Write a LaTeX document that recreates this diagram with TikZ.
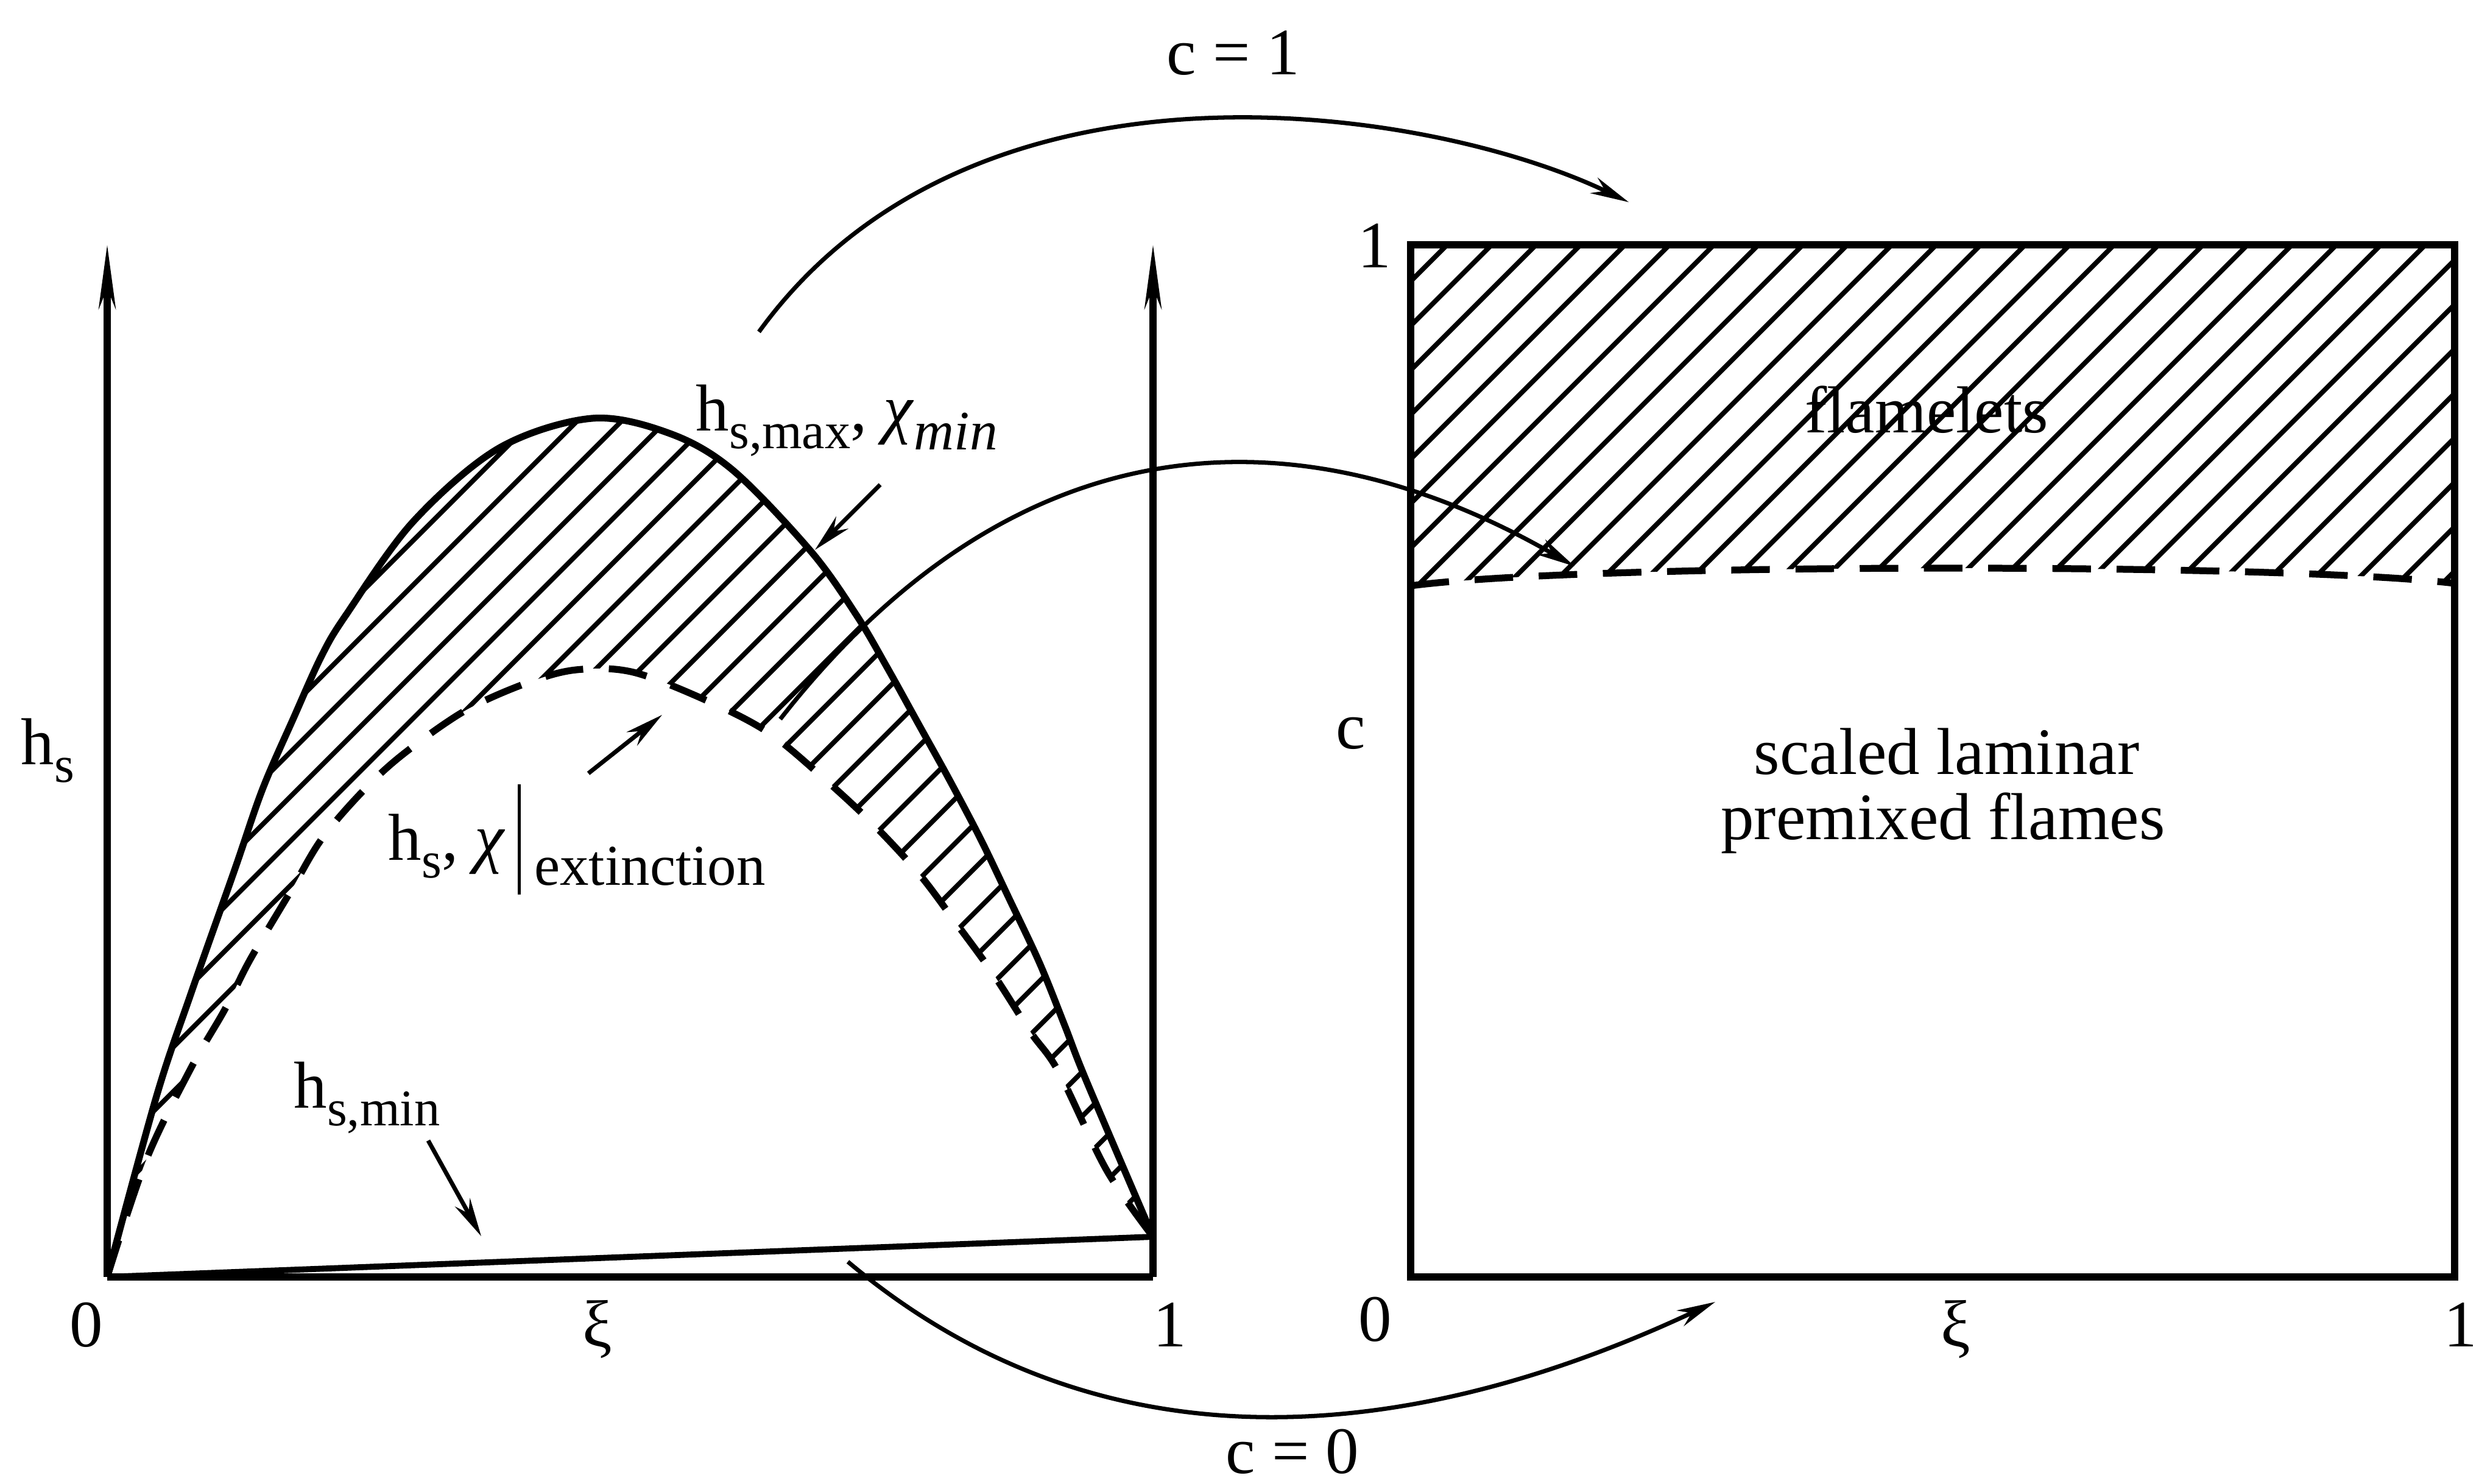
\documentclass[tikz,border=0pt]{standalone}
\usepackage{fontspec}
\setmainfont{Liberation Serif}
\usetikzlibrary{arrows.meta, positioning}

% lowered, smaller text for the subscripts
\newcommand{\subtxt}[1]{\raisebox{-0.26em}{\fontsize{24}{24}\selectfont #1}}

% upper (solid) and lower (dashed) enthalpy curves
\newcommand{\solidcurve}{plot[smooth, tension=0.55] coordinates {(1.76,3.39) (2.57,6.36) (3.13,8.03) (3.85,10.07) (4.31,11.40) (4.82,12.57) (5.28,13.59) (5.68,14.26) (6.78,15.79) (8.19,17.00) (9.72,17.49) (11.00,17.24) (12.03,16.64) (13.31,15.31) (14.06,14.26) (14.57,13.39) (15.08,12.47) (15.59,11.55) (16.10,10.58) (16.56,9.62) (17.07,8.54) (17.48,7.52) (17.84,6.60) (18.93,4.05)}}
\newcommand{\dashcurve}{plot[smooth, tension=0.55] coordinates {(1.76,3.39) (2.40,5.31) (3.13,6.81) (3.69,7.78) (4.10,8.59) (4.77,9.72) (5.28,10.58) (5.94,11.35) (6.60,11.96) (7.62,12.68) (8.64,13.14) (9.46,13.36) (10.40,13.32) (11.66,12.83) (12.63,12.32) (13.50,11.60) (14.32,10.84) (15.08,10.02) (15.69,9.21) (16.31,8.36) (16.92,7.41) (17.38,6.76) (18.17,5.14) (18.93,4.05)}}

\begin{document}
\begin{tikzpicture}[>={Stealth[length=18pt,width=8pt]},
  every node/.style={font={\fontsize{31}{30}\selectfont}, inner sep=0pt},
  axis/.style={line width=3.2pt},
  curve/.style={line width=3.2pt},
  hatch/.style={line width=2.3pt},
  dashes/.style={dash pattern=on 18pt off 12pt},
  link/.style={line width=2pt}]
\useasboundingbox (0,0) rectangle (40.70,24.36);

% Left plot: axes
\coordinate (O) at (1.76,3.39);
\coordinate (ytop) at (1.76,20.34);
\coordinate (R0) at (18.93,3.39);
\coordinate (Rtop) at (18.93,20.34);
\coordinate (Rmin) at (18.93,4.05);

% Hatched band between the curves
\begin{scope}
\clip \solidcurve -- cycle;
\foreach \k in {0,...,45} \draw[hatch] (-14+\k*0.73,2) -- ++(17,17);
\end{scope}
\fill[white] \dashcurve -- cycle;

\draw[curve] \solidcurve;
\draw[curve, dashes] \dashcurve;
\draw[axis, -{Stealth[length=30pt,width=8pt]}] (O) -- (ytop);
\draw[axis, -{Stealth[length=30pt,width=8pt]}] (R0) -- (Rtop);
\draw[axis] (O) -- (R0);
\draw[line width=2.8pt] (O) -- (Rmin);

% Left plot: labels
\node[anchor=base] (x0) at (1.42,2.24) {0};
\node[anchor=base] (xxi) at (9.81,2.24) {ξ};
\node[anchor=base] (x1) at (19.21,2.24) {1};
\node[anchor=base west] (hs) at (0.34,11.8) {h\subtxt{s}};
\node[anchor=base west] (hmax) at (11.42,17.28) {h\subtxt{s,max}, \textit{χ}\raisebox{-0.28em}{\fontsize{26}{26}\selectfont\itshape min}};
\node[anchor=base west] (hext) at (6.37,10.23) {h\subtxt{s}, \textit{χ}\hspace{0.2cm}\rule[-0.56cm]{1.6pt}{1.81cm}\hspace{0.22cm}\raisebox{-0.41cm}{\fontsize{27}{27}\selectfont extinction}};
\node[anchor=base west] (hmin) at (4.82,6.16) {h\subtxt{s,min}};

% Label arrows
\coordinate (maxtail) at (14.45,16.40);
\coordinate (maxtip) at (13.38,15.33);
\coordinate (exttail) at (9.66,11.66);
\coordinate (exttip) at (10.87,12.62);
\coordinate (mintail) at (7.03,5.63);
\coordinate (mintip) at (7.90,4.06);
\draw[link, ->] (maxtail) -- (maxtip);
\draw[link, ->] (exttail) -- (exttip);
\draw[link, ->] (mintail) -- (mintip);

% Right plot: hatched flamelet region
\begin{scope}
\clip (23.16,20.34) -- (23.16,14.74) .. controls (26,15.12) and (37.5,15.12) .. (40.30,14.78) -- (40.30,20.34) -- cycle;
\foreach \k in {0,...,32} \draw[hatch] (16.69+\k*0.73,14) -- ++(7,7);
\end{scope}
\draw[curve, dashes] (23.16,14.74) .. controls (26,15.12) and (37.5,15.12) .. (40.30,14.78);
\draw[axis] (23.16,3.39) rectangle (40.30,20.34);

% Right plot: labels
\node[anchor=base] (c0) at (22.58,2.34) {0};
\node[anchor=base] (cone) at (22.57,19.96) {1};
\node[anchor=base] (clbl) at (22.18,12.06) {c};
\node[anchor=base] (rxi) at (32.11,2.24) {ξ};
\node[anchor=base] (r1) at (40.40,2.24) {1};
\node[anchor=base] (flam) at (31.63,17.25) {flamelets};
\node[anchor=base] (lam1) at (31.96,11.64) {scaled laminar};
\node[anchor=base] (lam2) at (31.90,10.57) {premixed flames};

% Mapping arrows
\coordinate (c1from) at (12.46,18.91);
\coordinate (c1to) at (26.74,21.04);
\coordinate (flfrom) at (12.81,12.55);
\coordinate (flto) at (25.85,15.06);
\coordinate (c0from) at (13.92,3.64);
\coordinate (c0to) at (28.16,2.98);
\draw[link, ->] (c1from) .. controls (16,23.8) and (23.5,22.6) .. (c1to);
\draw[link, ->] (flfrom) .. controls (16.81,17.67) and (21.52,17.56) .. (flto);
\draw[link, ->] (c0from) .. controls (18.13,0.10) and (23.18,0.65) .. (c0to);
\node[anchor=base] (c1lbl) at (20.25,23.13) {c = 1};
\node[anchor=base] (c0lbl) at (21.22,0.17) {c = 0};
\end{tikzpicture}
\end{document}
